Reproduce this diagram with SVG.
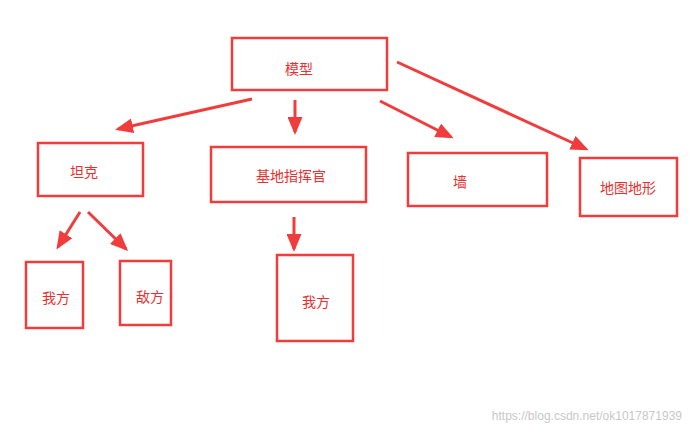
<svg xmlns="http://www.w3.org/2000/svg" width="692" height="435" viewBox="0 0 692 435">
<style>
.b{fill:#fff;stroke:#f03c3c;stroke-width:2.5}
.t{font-family:"Noto Sans CJK SC","Liberation Sans",sans-serif;font-size:14px;fill:#e83030;text-anchor:middle}
.c{stroke:#f03c3c;stroke-width:3;fill:none;marker-end:url(#a)}
</style>
<defs><marker id="a" markerWidth="6" markerHeight="5" refX="5" refY="2.5" orient="auto"><path d="M0,0L6,2.5L0,5z" fill="#f03c3c"/></marker></defs>
<rect width="692" height="435" fill="#fff"/>
<g id="connectors">
<line class="c" x1="252" y1="99" x2="118" y2="129"/>
<line class="c" x1="295" y1="100" x2="295" y2="132"/>
<line class="c" x1="380" y1="101" x2="451" y2="137"/>
<line class="c" x1="397" y1="62" x2="586" y2="149"/>
<line class="c" x1="80" y1="212" x2="58" y2="247"/>
<line class="c" x1="88" y1="212" x2="126" y2="249"/>
<line class="c" x1="294" y1="217" x2="294" y2="249"/>
</g>
<g id="n1"><rect class="b" x="232" y="38" width="155" height="52"/><text class="t" x="299" y="74">模型</text></g>
<g id="n2"><rect class="b" x="38" y="143" width="105" height="53"/><text class="t" x="84" y="177">坦克</text></g>
<g id="n3"><rect class="b" x="211" y="147" width="155" height="55"/><text class="t" x="291" y="181">基地指挥官</text></g>
<g id="n4"><rect class="b" x="408" y="153" width="139" height="53"/><text class="t" x="460" y="187">墙</text></g>
<g id="n5"><rect class="b" x="580" y="158" width="97" height="58"/><text class="t" x="628" y="193">地图地形</text></g>
<g id="n6"><rect class="b" x="26" y="262" width="57" height="66"/><text class="t" x="56" y="303">我方</text></g>
<g id="n7"><rect class="b" x="120" y="261" width="51" height="64"/><text class="t" x="150" y="302">敌方</text></g>
<g id="n8"><rect class="b" x="277" y="255" width="76" height="86"/><text class="t" x="316" y="307">我方</text></g>
<text x="682" y="420" font-family="Liberation Sans,sans-serif" font-size="12" fill="#c8c8c8" text-anchor="end">https://blog.csdn.net/ok1017871939</text>
</svg>
